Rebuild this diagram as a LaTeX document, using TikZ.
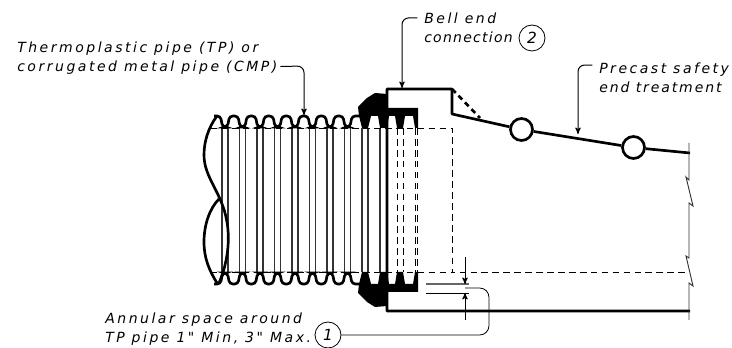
\documentclass[tikz,border=0pt]{standalone}
\usepackage{fontspec}
\setmainfont{DejaVu Sans}[LetterSpace=18,Ligatures=TeXOff]
\usepackage{tikz}
\usetikzlibrary{arrows,positioning}
\tikzset{
    %Define standard arrow tip
    >=stealth',
    %Define style for labels
    note/.style={
           inner sep=0pt,
           anchor=north west,
           align=left,
           font=\fontsize{10.5}{14.6}\selectfont\itshape},
    %Define style for numbered circles
    callout/.style={
           circle,
           draw=black, line width=.6pt,
           minimum size=19.5pt,
           inner sep=0pt,
           font=\fontsize{11.5}{12}\selectfont\itshape},
    %Define style for lift holes
    hole/.style={
           circle,
           draw=black, line width=2pt,
           fill=white,
           minimum size=16.5pt,
           inner sep=0pt},
    % Define line styles
    leader/.style={
           ->,
           line width=.75pt,
           rounded corners=5pt},
    heavy/.style={line width=2pt},
    hidden/.style={line width=.6pt, dash pattern=on 5pt off 3.2pt},
    rib/.style={line width=1pt, black!80}
}

\begin{document}
\begin{tikzpicture}[x=.75pt,y=-.75pt]
\useasboundingbox (0,0) rectangle (732,348);

 %labels
\node[note](pipetext) at (17,41.5){Thermoplastic pipe (TP) or\\corrugated metal pipe (CMP)};
\node[note](belltext) at (424,12.5){Bell end\\{\addfontfeature{LetterSpace=9}connection}};
\node[callout](two) at (532,38){2};
\node[note](safetytext) at (599,62.5){Precast safety\\{\addfontfeature{LetterSpace=13.6}end treatment}};
\node[note](spacetext) at (105,312.5){Annular space around\\TP pipe 1" Min, 3" Max.};
\node[callout](one) at (328,335){1};

 %ribs
\foreach \c in {225,242.5,...,365}
    \draw[rib] (\c-3,128) -- (\c-3,272) (\c+3,128) -- (\c+3,272);
\draw[rib] (380,128) -- (380,272);

 %hidden lines
\draw[hidden] (210,128) -- (452,128) -- (452,272) -- (687,272);
\draw[hidden] (210,272) -- (452,272);
\foreach \x in {397,403,415,417.5}
    \draw[hidden] (\x,128) -- (\x,272);

 %corrugations
\foreach \yc/\yt in {116/127,284/273}{
    \draw[heavy, rounded corners=2.5pt] (214,\yc)
    \foreach \c in {225,242.5,...,347.5} {
        -- (\c-4.5,\yc) -- (\c-2.5,\yt) -- (\c+2.5,\yt) -- (\c+4.5,\yc)}
    -- (360,\yc);
}

 %pipe break
\draw[heavy] (217,116) .. controls (208,128) and (204,142) .. (204,155)
    .. controls (204,178) and (222,192) .. (227,222)
    .. controls (230,240) and (228,262) .. (219,283);
\draw[heavy] (217,283) .. controls (209,270) and (204,258) .. (204,242)
    .. controls (204,224) and (210,208) .. (219,199);

 %gaskets
\foreach \s in {1,-1}{
\begin{scope}[shift={(0,200)},yscale=\s,shift={(0,-200)}]
    \fill[black] (358,107) -- (367,98) -- (375,93) -- (387,94) -- (387,108) -- (418,108)
        -- (418,128) -- (415,128) -- (413,116) -- (405,116) -- (403,128) -- (397,128)
        -- (395,116) -- (389,116) -- (387,128) -- (380,128) -- (378,116) -- (371,116)
        -- (368,128) -- (362,128) -- (359,116) -- cycle;
\end{scope}
}

 %bell end and safety end
\coordinate (belltop) at (387,89);
\coordinate (bellcorner) at (452,89);
\coordinate (bellfoot) at (452,114);
\coordinate (bellbase) at (387,311);
\coordinate (slopeend) at (690,153);
\coordinate (baseend) at (690,311);
\coordinate (chamfer) at (480,118);
\node[hole](holeone) at (521.5,129.5){};
\node[hole](holetwo) at (633.5,147.5){};
\draw[heavy, line join=round] (baseend) -- (bellbase) -- (belltop) -- (bellcorner) -- (bellfoot) -- (holeone) -- (holetwo) -- (slopeend);
\draw[heavy, dash pattern=on 4pt off 3pt] (bellcorner) -- (chamfer);

 %end line with breaks
\draw[line width=.7pt, black!80] (689,143) -- (689,180) -- (686,177) -- (693,206) -- (689,203)
    -- (689,258) -- (686,256) -- (693,286) -- (689,283) -- (689,320);

 %space dimension
\draw[line width=.9pt, black!60] (426,284) -- (469,284);
\draw[line width=.6pt] (426,293) -- (469,293);
\draw[->, line width=.75pt] (465,257) -- (465,284);
\draw[->, line width=.75pt] (465,320) -- (465,293);

 %leaders
\coordinate (pipetip) at (304,115);
\coordinate (belltip) at (402,88);
\coordinate (safetytip) at (578,134);
\coordinate (spacetip) at (465,288);
\draw[leader] ([xshift=2pt,yshift=6.4pt]pipetext.south east) -- (304,66) -- (pipetip);
\draw[leader] ([xshift=-5pt,yshift=-4pt]belltext.north west) -- (402,18) -- (belltip);
\draw[leader] ([xshift=-5pt,yshift=-1.9pt]safetytext.north west) -- (578,65) -- (safetytip);
\draw[line width=.6pt, rounded corners=7pt] (one) -- (489,335) -- (489,288) -- (spacetip);
\end{tikzpicture}
\end{document}
